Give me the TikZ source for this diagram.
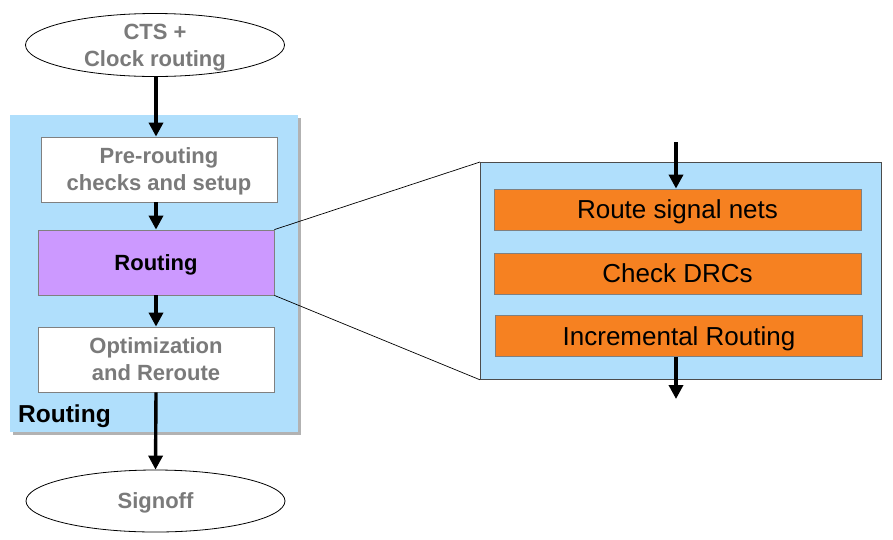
\documentclass[tikz,border=0pt]{standalone}
\usepackage{fontspec}
\setmainfont{Liberation Sans}
\usetikzlibrary{shapes.geometric,arrows.meta}
\definecolor{panelblue}{HTML}{B0DFFC}
\definecolor{routepurple}{HTML}{CC99FF}
\definecolor{steporange}{HTML}{F68121}
\definecolor{txtgray}{HTML}{7A7A7A}
\definecolor{edgegray}{HTML}{808080}
\tikzset{
  oval/.style={ellipse,draw=black,fill=white,line width=0.8pt,minimum width=259pt,minimum height=63pt,inner sep=0pt,
    font=\fontsize{22}{27}\selectfont\bfseries,text=txtgray,align=center,text depth=0pt},
  flowbox/.style={rectangle,draw=edgegray,fill=white,line width=0.8pt,minimum width=236pt,minimum height=65pt,inner sep=0pt,
    font=\fontsize{22}{27}\selectfont\bfseries,text=txtgray,align=center,text depth=0pt},
  substep/.style={rectangle,draw=edgegray,fill=steporange,line width=0.8pt,minimum width=367pt,minimum height=41pt,inner sep=0pt,
    font=\fontsize{26}{30}\selectfont,text=black,text depth=0pt},
  flowarrow/.style={-{Triangle[width=14pt,length=14pt]},line width=3.4pt,black},
  zoomline/.style={line width=0.7pt,black}
}
\begin{document}
\begin{tikzpicture}[x=1pt,y=-1pt]
\useasboundingbox (0,0) rectangle (893,539);
% left panel with shadow
\fill[black!30] (13,118) rectangle (301,435);
\node[rectangle,fill=panelblue,minimum width=288pt,minimum height=317pt,inner sep=0pt,anchor=north west] (panel) at (10,115) {};
\node[font=\fontsize{24.5}{28}\selectfont\bfseries,anchor=west,inner sep=0pt] (plabel) at (18,416) {Routing};
% nodes
\node[oval] (cts) at (155,45) {CTS +\\Clock routing};
\node[flowbox] (pre) at (159,169.5) {Pre-routing\\checks and setup};
\node[flowbox,fill=routepurple,text=black] (rt) at (156,262.5) {Routing};
\node[flowbox] (opt) at (156,359.5) {Optimization\\and Reroute};
\node[oval,minimum height=62pt] (sign) at (155.5,501) {Signoff};
% right panel
\node[rectangle,draw=black!70,fill=panelblue,line width=0.8pt,minimum width=401pt,minimum height=217pt,inner sep=0pt,anchor=north west] (rpanel) at (480,162) {};
\node[substep] (rsn) at (677.5,209.5) {Route signal nets};
\node[substep] (drc) at (677.5,273.5) {Check DRCs};
\node[substep] (inc) at (679,336) {Incremental Routing};
\coordinate (rin) at (676,142);
\coordinate (rout) at (676,399);
% connectors
\draw[flowarrow] (cts.south -| rt.north) -- (pre.north -| rt.north);
\draw[flowarrow] (pre.south -| rt.north) -- (rt.north);
\draw[flowarrow] (rt.south) -- (opt.north);
\draw[flowarrow] (opt.south) -- (sign.north);
\draw[flowarrow] (rin) -- (rin |- rsn.north);
\draw[flowarrow] (inc.south -| rout) -- (rout);
\draw[zoomline] (rt.north east) -- (rpanel.north west);
\draw[zoomline] (rt.south east) -- (rpanel.south west);
\end{tikzpicture}
\end{document}
